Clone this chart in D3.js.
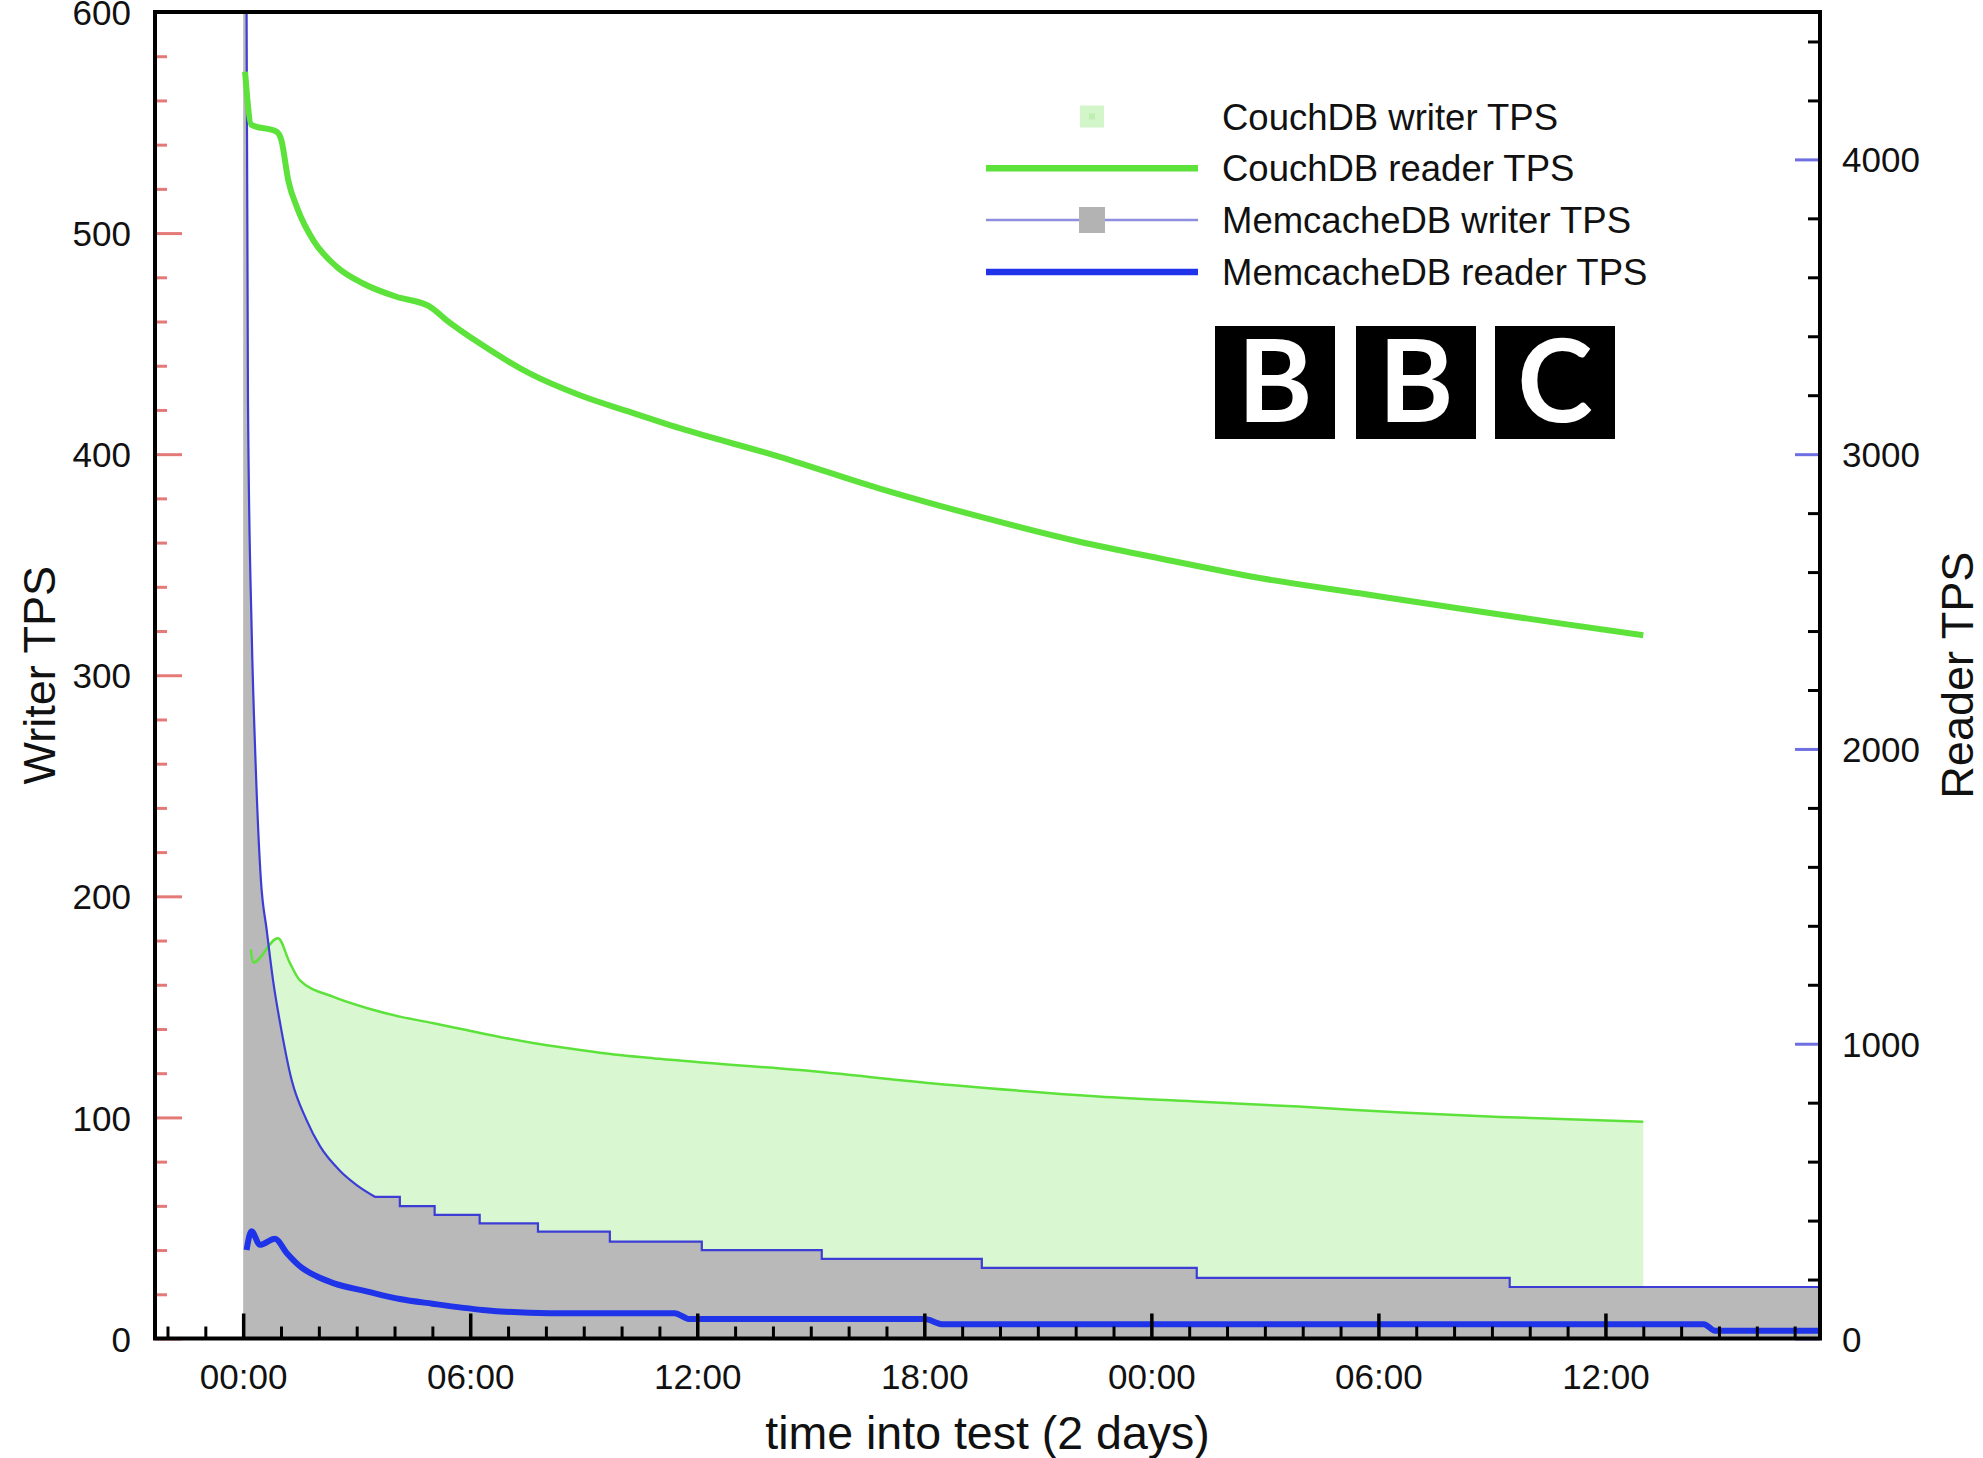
<!DOCTYPE html>
<html><head><meta charset="utf-8">
<script src="https://cdn.jsdelivr.net/npm/d3@7"></script>
<style>
html,body{margin:0;padding:0;background:#fff;}
svg{display:block;font-family:"Liberation Sans",Arial,Helvetica,sans-serif;}
</style>
</head><body>
<svg id="chart" width="1983" height="1458"></svg>
<script>
// ---------- data (hours into test, TPS) ----------
const majorHours = [0, 6, 12, 18, 24, 30, 36];
const majorHourLabels = ["00:00", "06:00", "12:00", "18:00", "00:00", "06:00", "12:00"];
const writerTicks = [0, 100, 200, 300, 400, 500, 600];
const readerTicks = [0, 1000, 2000, 3000, 4000];

const seriesNames = ["CouchDB writer TPS", "CouchDB reader TPS", "MemcacheDB writer TPS", "MemcacheDB reader TPS"];

// CouchDB writer TPS (left axis)
const couchWriterHours  = [0.20, 0.26, 0.92, 1.23, 1.50, 2.37, 3.26, 4.14, 5.00, 5.90, 6.78, 7.66, 8.54, 9.42, 11.0, 14.7, 18.7, 22.6, 25.3, 27.9, 30.6, 33.2, 37.0];
const couchWriterValues = [176, 170, 181, 170, 162, 154.6, 149.5, 145.6, 142.7, 139.5, 136.4, 133.7, 131.4, 129.3, 126.5, 121.4, 114.7, 109.5, 107.1, 104.9, 102.2, 100.2, 98];

// CouchDB reader TPS (right axis)
const couchReaderHours  = [0.05, 0.22, 0.88, 1.01, 1.19, 1.45, 1.85, 2.47, 3.17, 4.05, 4.85, 4.94, 5.37, 6.25, 7.57, 8.9, 10.2, 11.54, 14.18, 16.8, 19.47, 22.1, 24.2, 26.9, 29.5, 32.1, 34.8, 37.0];
const couchReaderValues = [4297, 4117, 4094, 4065, 3930, 3828, 3726, 3636, 3579, 3534, 3506, 3500, 3455, 3376, 3274, 3200, 3144, 3088, 2991, 2884, 2788, 2703, 2647, 2579, 2528, 2477, 2426, 2386];

// MemcacheDB writer TPS (left axis): initial decay, then stepped levels
const memWriterDecayHours  = [0.0, 0.09, 0.127, 0.225, 0.325, 0.47, 0.62, 0.79, 1.01, 1.28, 1.67, 2.03, 2.55, 3.0, 3.48];
const memWriterDecayValues = [680, 600, 424, 320, 262, 207, 185, 162, 139.5, 117, 99, 87, 76, 69.4, 64.1];
const memWriterStepHours   = [3.48, 4.14, 5.06, 6.25, 7.79, 9.69, 12.12, 15.29, 19.52, 25.2, 33.47, 41.67];
const memWriterStepValues  = [64.1, 59.9, 55.9, 52.1, 48.3, 43.8, 40, 36, 31.9, 27.4, 23.3, 23.3];

// MemcacheDB reader TPS (right axis)
const memReaderHours  = [0.09, 0.22, 0.44, 0.84, 1.15, 1.5, 1.94, 2.38, 3.26, 4.14, 5.0, 6.33, 8.1, 11.4, 11.8, 18.0, 18.5, 38.6, 38.9, 41.67];
const memReaderValues = [300, 364, 318, 338, 290, 245, 211, 188, 160, 134, 118, 97, 86, 86, 66, 66, 48, 48, 26, 26];

// ---------- layout ----------
const L = 155, R = 1820, T = 12, B = 1338.5;
const svg = d3.select("#chart");

const x = d3.scaleLinear().domain([-2.33, 41.67]).range([L, R]);
const yW = d3.scaleLinear().domain([0, 600]).range([B, T]);
const yR = d3.scaleLinear().domain([0, 4500]).range([B, T]);

const zip = (a, b) => a.map((h, i) => [h, b[i]]);
const couchWriter = zip(couchWriterHours, couchWriterValues);
const couchReader = zip(couchReaderHours, couchReaderValues);
const memWriterDecay = zip(memWriterDecayHours, memWriterDecayValues);
const memWriterSteps = zip(memWriterStepHours, memWriterStepValues);
const memReader = zip(memReaderHours, memReaderValues);

svg.append("defs").append("clipPath").attr("id", "plotclip")
  .append("rect").attr("x", L).attr("y", T).attr("width", R - L).attr("height", B - T);

const plot = svg.append("g").attr("clip-path", "url(#plotclip)");

const colGreen = "#5de23b", colGreenFill = "#d9f8d1", colGray = "#b9b9b9";
const colBlueThin = "#3d3dd6", colBlue = "#1f33e8";

// MemcacheDB writer path: smooth decay + step-after levels
const decayLine = d3.line().x(d => x(d[0])).y(d => yW(d[1])).curve(d3.curveMonotoneX);
const stepLine = d3.line().x(d => x(d[0])).y(d => yW(d[1])).curve(d3.curveStepAfter);
const memWriterD = decayLine(memWriterDecay) + stepLine(memWriterSteps).replace(/^M/, "L");
const memWriterAreaD = memWriterD +
  `L${x(memWriterStepHours[memWriterStepHours.length - 1])},${yW(0)}L${x(memWriterDecayHours[0])},${yW(0)}Z`;

// areas
plot.append("path").datum(couchWriter)
  .attr("d", d3.area().x(d => x(d[0])).y0(yW(0)).y1(d => yW(d[1])).curve(d3.curveMonotoneX))
  .attr("fill", colGreenFill);
plot.append("path").attr("d", memWriterAreaD).attr("fill", colGray);

// lines
plot.append("path").datum(couchWriter)
  .attr("d", d3.line().x(d => x(d[0])).y(d => yW(d[1])).curve(d3.curveMonotoneX))
  .attr("fill", "none").attr("stroke", colGreen).attr("stroke-width", 2.5);
plot.append("path").attr("d", memWriterD)
  .attr("fill", "none").attr("stroke", colBlueThin).attr("stroke-width", 2.2);
plot.append("path").datum(couchReader)
  .attr("d", d3.line().x(d => x(d[0])).y(d => yR(d[1])).curve(d3.curveMonotoneX))
  .attr("fill", "none").attr("stroke", colGreen).attr("stroke-width", 6).attr("stroke-linejoin", "round");
plot.append("path").datum(memReader)
  .attr("d", d3.line().x(d => x(d[0])).y(d => yR(d[1])).curve(d3.curveMonotoneX))
  .attr("fill", "none").attr("stroke", colBlue).attr("stroke-width", 6).attr("stroke-linejoin", "round");

// ---------- axes ----------
const tickFont = 35;
function styleAxis(g, color, width) {
  g.select(".domain").remove();
  g.selectAll(".tick line").attr("stroke", color).attr("stroke-width", width);
  g.selectAll(".tick text").attr("fill", "#111").attr("font-size", tickFont).attr("font-family", null);
}

// x axis
const xMinor = d3.range(-2, 42).filter(h => !majorHours.includes(h));
svg.append("g").attr("transform", `translate(0,${B})`)
  .call(d3.axisBottom(x).tickValues(xMinor).tickSize(-12).tickFormat(""))
  .call(g => styleAxis(g, "#000", 3));
svg.append("g").attr("transform", `translate(0,${B})`)
  .call(d3.axisBottom(x).tickValues(majorHours).tickSize(-25).tickFormat((d, i) => majorHourLabels[i]))
  .call(g => styleAxis(g, "#000", 3.5))
  .call(g => g.selectAll(".tick text").attr("y", 50).attr("dy", 0));

// left axis
const wMinor = d3.range(0, 601, 20).filter(v => v % 100 !== 0);
svg.append("g").attr("transform", `translate(${L},0)`)
  .call(d3.axisLeft(yW).tickValues(wMinor).tickSize(-12).tickFormat(""))
  .call(g => styleAxis(g, "#e47a78", 3));
svg.append("g").attr("transform", `translate(${L},0)`)
  .call(d3.axisLeft(yW).tickValues(writerTicks).tickSize(-27).tickFormat(d3.format("d")))
  .call(g => styleAxis(g, "#e47a78", 3))
  .call(g => g.selectAll(".tick text").attr("x", -24).attr("dy", "0.36em"));

// right axis
const rMinor = d3.range(0, 4501, 200).filter(v => v % 1000 !== 0);
svg.append("g").attr("transform", `translate(${R},0)`)
  .call(d3.axisRight(yR).tickValues(rMinor).tickSize(-12).tickFormat(""))
  .call(g => styleAxis(g, "#000", 3));
svg.append("g").attr("transform", `translate(${R},0)`)
  .call(d3.axisRight(yR).tickValues(readerTicks).tickSize(-25).tickFormat(d3.format("d")))
  .call(g => styleAxis(g, "#6f6fe2", 3))
  .call(g => g.selectAll(".tick text").attr("x", 22).attr("dy", "0.36em"));

// frame
svg.append("rect").attr("x", L).attr("y", T).attr("width", R - L).attr("height", B - T)
  .attr("fill", "none").attr("stroke", "#000").attr("stroke-width", 4);

// axis titles
svg.append("text").attr("x", (L + R) / 2).attr("y", 1449).attr("text-anchor", "middle")
  .attr("font-size", 46.5).attr("fill", "#111").text("time into test (2 days)");
svg.append("text").attr("transform", `translate(55,${(T + B) / 2}) rotate(-90)`).attr("text-anchor", "middle")
  .attr("font-size", 45).attr("fill", "#111").text("Writer TPS");
svg.append("text").attr("transform", `translate(1973,${(T + B) / 2}) rotate(-90)`).attr("text-anchor", "middle")
  .attr("font-size", 45).attr("fill", "#111").text("Reader TPS");

// ---------- legend ----------
const legRows = [116.5, 168.2, 220, 272];
const leg = svg.append("g");
const lx0 = 986, lx1 = 1198, lmid = 1092, ltext = 1222;
leg.append("rect").attr("x", lmid - 12).attr("y", legRows[0] - 11).attr("width", 24).attr("height", 22).attr("fill", "#d3f5ca");
leg.append("rect").attr("x", lmid - 3).attr("y", legRows[0] - 3).attr("width", 6).attr("height", 6).attr("fill", "#bfeeb2");
leg.append("line").attr("x1", lx0).attr("x2", lx1).attr("y1", legRows[1]).attr("y2", legRows[1]).attr("stroke", colGreen).attr("stroke-width", 6.5);
leg.append("line").attr("x1", lx0).attr("x2", lx1).attr("y1", legRows[2]).attr("y2", legRows[2]).attr("stroke", "#8e8ee0").attr("stroke-width", 2.5);
leg.append("rect").attr("x", lmid - 13).attr("y", legRows[2] - 13).attr("width", 26).attr("height", 26).attr("fill", "#b3b3b3");
leg.append("line").attr("x1", lx0).attr("x2", lx1).attr("y1", legRows[3]).attr("y2", legRows[3]).attr("stroke", colBlue).attr("stroke-width", 6.5);
leg.selectAll("text.lg").data(seriesNames).join("text").attr("class", "lg")
  .attr("x", ltext).attr("y", (d, i) => legRows[i]).attr("dy", "0.36em")
  .attr("font-size", 36.5).attr("fill", "#111").text(d => d);

// ---------- BBC logo ----------
const bbcLetters = ["B", "B", "C"];
const bbcX = [1215, 1356, 1495];
const logo = svg.append("g");
logo.selectAll("rect").data(bbcLetters).join("rect")
  .attr("x", (d, i) => bbcX[i]).attr("y", 326).attr("width", 120).attr("height", 113).attr("fill", "#000");
logo.selectAll("text").data(bbcLetters).join("text")
  .attr("x", (d, i) => bbcX[i] + 60).attr("y", 422).attr("text-anchor", "middle")
  .attr("font-family", "Lato, 'Open Sans', sans-serif").attr("font-weight", 700)
  .attr("font-size", 114).attr("fill", "#fff").text(d => d);
</script>
</body></html>
